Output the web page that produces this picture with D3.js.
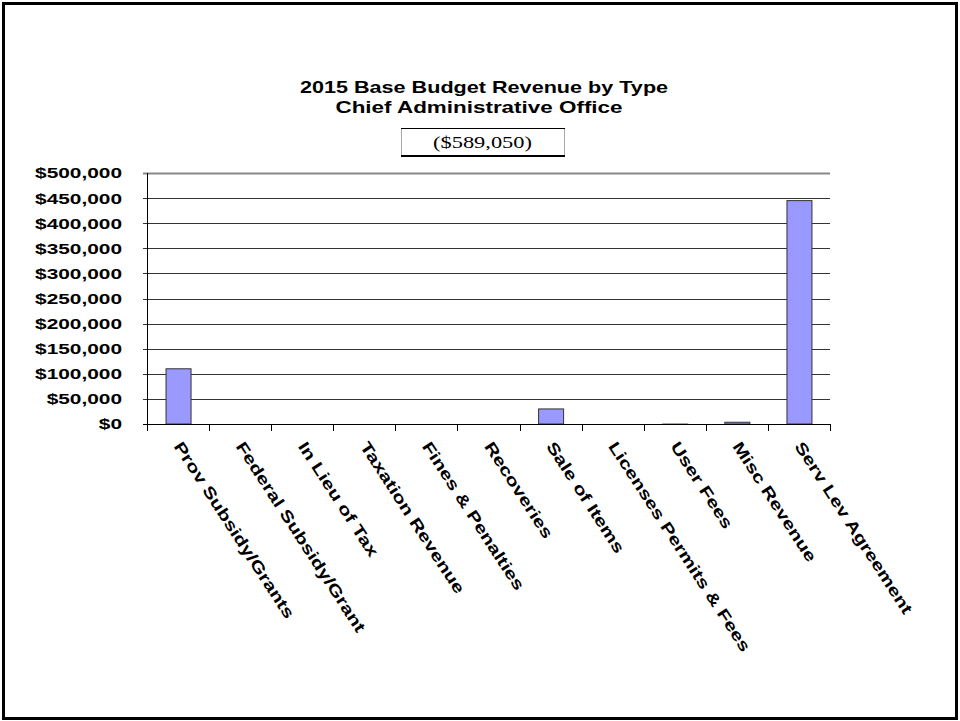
<!DOCTYPE html>
<html>
<head>
<meta charset="utf-8">
<script src="https://cdn.jsdelivr.net/npm/d3@7"></script>
<style>
  body { margin: 0; background: #fff; }
  svg { display: block; }
</style>
</head>
<body>
<div id="chart"></div>
<script>
'use strict';

// Daten
var categories = ["Prov Subsidy/Grants", "Federal Subsidy/Grant", "In Lieu of Tax",
    "Taxation Revenue", "Fines & Penalties", "Recoveries", "Sale of Items",
    "Licenses Permits & Fees", "User Fees", "Misc Revenue", "Serv Lev Agreement"];
var values = [110000, 0, 0, 0, 0, 0, 30000, 0, 550, 3500, 445000];
var yTicks = [0, 50000, 100000, 150000, 200000, 250000, 300000, 350000, 400000, 450000, 500000];
var titleLines = ["2015 Base Budget Revenue by Type", "Chief Administrative Office"];

var width = 960, height = 721;
var plotLeft = 147, plotRight = 830, plotTop = 173, plotBottom = 424;

var svg = d3.select("#chart")
    .append("svg")
    .attr("width", width)
    .attr("height", height);

// Rahmen
svg.append("rect")
    .attr("x", 3.5).attr("y", 3.5)
    .attr("width", 953).attr("height", 715)
    .style("fill", "white")
    .style("stroke", "black")
    .style("stroke-width", 3);

var x = d3.scaleBand()
    .domain(categories)
    .range([plotLeft, plotRight])
    .paddingInner(0)
    .paddingOuter(0);

var y = d3.scaleLinear()
    .domain([0, 500000])
    .range([plotBottom, plotTop]);

// Titel (Excel-Bild ist horizontal gestreckt)
svg.selectAll(".title")
    .data(titleLines)
    .enter().append("text")
    .attr("class", "title")
    .attr("transform", (d, i) => "translate(" + (i ? 479 : 484) + "," + (93 + i * 19.5) + ") scale(" + (i ? 1.36 : 1.31) + ",1)")
    .attr("text-anchor", "middle")
    .style("font-family", "'Liberation Sans', Arial, sans-serif")
    .style("font-weight", "bold")
    .style("font-size", "16.5px")
    .text(d => d);

// Summe im Kasten
var total = d3.sum(values);
var box = svg.append("g");
box.append("rect")
    .attr("x", 401.5).attr("y", 128.5)
    .attr("width", 163).attr("height", 27)
    .style("fill", "white")
    .style("stroke", "#aaa")
    .style("stroke-width", 1);
box.append("line")
    .attr("x1", 401).attr("x2", 565)
    .attr("y1", 128.5).attr("y2", 128.5)
    .style("stroke", "black");
box.append("line")
    .attr("x1", 401).attr("x2", 565)
    .attr("y1", 156).attr("y2", 156)
    .style("stroke", "black")
    .style("stroke-width", 2);
box.append("text")
    .attr("transform", "translate(482.5,148) scale(1.4,1)")
    .attr("text-anchor", "middle")
    .style("font-family", "'Liberation Serif', 'Times New Roman', serif")
    .style("font-size", "16px")
    .text("(" + d3.format("$,")(total) + ")");

// Gitterlinien
svg.append("g")
    .selectAll("line")
    .data(yTicks.filter(d => d > 0))
    .enter().append("line")
    .attr("x1", plotLeft - 4)
    .attr("x2", plotRight)
    .attr("y1", d => Math.round(y(d)) + 0.5)
    .attr("y2", d => Math.round(y(d)) + 0.5)
    .style("stroke", d => d === 500000 ? "#888" : "#333")
    .style("stroke-width", d => d === 500000 ? 2 : 1);

// Y-Achse
svg.append("line")
    .attr("x1", plotLeft + 0.5).attr("x2", plotLeft + 0.5)
    .attr("y1", plotTop).attr("y2", plotBottom)
    .style("stroke", "black");

svg.append("g")
    .selectAll("text")
    .data(yTicks)
    .enter().append("text")
    .attr("transform", d => "translate(122," + y(d) + ") scale(1.39,1)")
    .attr("dy", "0.36em")
    .attr("text-anchor", "end")
    .style("font-family", "'Liberation Sans', Arial, sans-serif")
    .style("font-weight", "bold")
    .style("font-size", "15px")
    .text(d => d3.format("$,")(d));

// Balken
svg.append("g")
    .selectAll("rect")
    .data(values)
    .enter().append("rect")
    .attr("x", (d, i) => x(categories[i]) + x.bandwidth() / 2 - 12)
    .attr("y", d => y(d))
    .attr("width", 25)
    .attr("height", d => plotBottom - y(d))
    .style("fill", "#9999ff")
    .style("stroke", d => d > 2000 ? "#333" : "#999")
    .style("stroke-width", 1);

// X-Achse mit Ticks
svg.append("line")
    .attr("x1", plotLeft - 4).attr("x2", plotRight + 1)
    .attr("y1", plotBottom + 0.5).attr("y2", plotBottom + 0.5)
    .style("stroke", "black");

svg.append("g")
    .selectAll("line")
    .data(d3.range(categories.length + 1))
    .enter().append("line")
    .attr("x1", i => Math.round(plotLeft + i * x.step()) + 0.5)
    .attr("x2", i => Math.round(plotLeft + i * x.step()) + 0.5)
    .attr("y1", plotBottom)
    .attr("y2", plotBottom + 7)
    .style("stroke", "black");

// Kategorie-Beschriftung, gedreht
svg.append("g")
    .selectAll("text")
    .data(categories)
    .enter().append("text")
    .attr("transform", d => "translate(" + (x(d) + x.bandwidth() / 2) + ",443) rotate(57) scale(1.31,1)")
    .attr("dy", "0.36em")
    .attr("text-anchor", "start")
    .style("font-family", "'Liberation Sans', Arial, sans-serif")
    .style("font-weight", "bold")
    .style("font-size", "16px")
    .text(d => d);
</script>
</body>
</html>
